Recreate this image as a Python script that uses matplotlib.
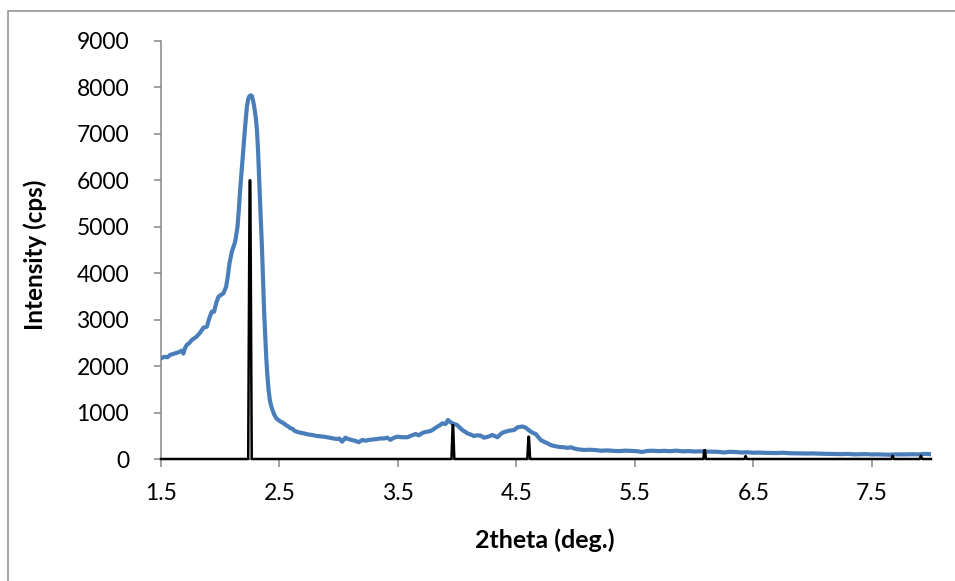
import matplotlib
matplotlib.use("Agg")
import matplotlib.pyplot as plt
from matplotlib.patches import Rectangle

# ---- data ----
blue_x = [1.50, 1.53, 1.555, 1.576, 1.618, 1.65, 1.675, 1.689, 1.703, 1.717, 1.74, 1.76, 1.80, 1.83,
          1.858, 1.887, 1.91, 1.929, 1.948, 1.965, 1.985, 2.01, 2.027, 2.05, 2.065, 2.078, 2.098,
          2.126, 2.146, 2.158, 2.168, 2.182, 2.196, 2.21, 2.225, 2.237, 2.247, 2.258, 2.267, 2.277,
          2.287, 2.30, 2.31, 2.32, 2.329, 2.34, 2.352, 2.362, 2.371, 2.38, 2.388, 2.398, 2.408,
          2.42, 2.436, 2.455, 2.473, 2.50, 2.535, 2.56, 2.575, 2.591, 2.61, 2.625, 2.648, 2.67,
          2.704, 2.74, 2.78, 2.817, 2.86, 2.90, 2.93, 2.96, 2.986, 3.005, 3.029, 3.045, 3.057,
          3.08, 3.113, 3.14, 3.17, 3.198, 3.23, 3.254, 3.29, 3.325, 3.36, 3.38, 3.409, 3.437,
          3.46, 3.494, 3.53, 3.579, 3.61, 3.649, 3.677, 3.70, 3.72, 3.776, 3.80, 3.832, 3.85,
          3.875, 3.903, 3.922, 3.94, 3.959, 4.0, 4.02, 4.044, 4.065, 4.086, 4.11, 4.142, 4.17,
          4.199, 4.227, 4.26, 4.298, 4.32, 4.34, 4.36, 4.382, 4.41, 4.438, 4.481, 4.509, 4.53,
          4.551, 4.579, 4.60, 4.622, 4.64, 4.664, 4.685, 4.706, 4.735, 4.763, 4.79, 4.819, 4.86,
          4.904, 4.93, 4.96, 4.99, 5.017, 5.073, 5.12, 5.157, 5.214, 5.27, 5.32, 5.37, 5.42,
          5.47, 5.52, 5.56, 5.60, 5.65, 5.70, 5.75, 5.80, 5.85, 5.90, 5.95, 6.00, 6.05, 6.10,
          6.15, 6.20, 6.25, 6.30, 6.35, 6.40, 6.45, 6.50, 6.55, 6.60, 6.65, 6.70, 6.75, 6.80,
          6.85, 6.90, 6.95, 7.00, 7.05, 7.10, 7.15, 7.20, 7.25, 7.30, 7.35, 7.40, 7.45, 7.50,
          7.55, 7.60, 7.65, 7.70, 7.75, 7.80, 7.85, 7.90, 7.95, 7.99]
blue_y = [2170, 2200, 2190, 2240, 2275, 2300, 2332, 2270, 2390, 2454, 2500, 2562, 2633, 2720,
          2827, 2848, 3050, 3171, 3171, 3350, 3494, 3540, 3567, 3710, 3950, 4213, 4463,
          4678, 5001, 5400, 5792, 6250, 6724, 7150, 7585, 7760, 7815, 7830, 7815, 7720,
          7585, 7350, 7083, 6600, 6007, 5300, 4571, 3850, 3137, 2650, 2203, 1800, 1486,
          1250, 1091, 960, 876, 820, 769, 720, 700, 664, 650, 610, 585, 570,
          553, 530, 515, 495, 485, 470, 455, 440, 430, 440, 373, 420, 459,
          430, 409, 390, 362, 409, 395, 410, 420, 431, 445, 440, 459, 412,
          450, 481, 470, 467, 500, 538, 510, 550, 574, 603, 640, 696, 720,
          768, 754, 840, 800, 768, 732, 680, 624, 590, 553, 530, 495, 510,
          502, 459, 480, 517, 490, 467, 520, 566, 590, 609, 624, 682, 690,
          700, 674, 630, 588, 560, 538, 470, 409, 370, 338, 300, 280, 260,
          252, 240, 252, 225, 209, 194, 200, 194, 179, 185, 175, 170, 180,
          175, 168, 150, 172, 178, 170, 175, 168, 180, 165, 170, 162, 165, 160,
          158, 155, 140, 155, 150, 140, 145, 135, 138, 132, 130, 128, 135, 125,
          122, 120, 118, 120, 115, 112, 110, 108, 105, 110, 100, 102, 105, 98,
          100, 95, 92, 100, 98, 100, 102, 100, 110, 105]

ref_x = [1.50, 2.236, 2.248, 2.254, 2.266, 3.952, 3.962, 3.966, 3.976, 4.592, 4.602, 4.606, 4.616,
         6.078, 6.086, 6.092, 6.100, 6.425, 6.435, 6.445, 7.665, 7.676, 7.687, 7.904, 7.915, 7.926, 8.00]
ref_y = [0, 0, 6000, 6000, 0, 0, 730, 730, 0, 0, 480, 480, 0,
         0, 190, 190, 0, 0, 65, 0, 0, 70, 0, 0, 70, 0, 0]

x_ticks = [1.5, 2.5, 3.5, 4.5, 5.5, 6.5, 7.5]
y_ticks = [0, 1000, 2000, 3000, 4000, 5000, 6000, 7000, 8000, 9000]
x_label = "2theta (deg.)"
y_label = "Intensity (cps)"

# ---- figure ----
W, H, DPI = 955, 581, 100
fig = plt.figure(figsize=(W / DPI, H / DPI), dpi=DPI)
plt.rcParams['font.family'] = ['Lato', 'DejaVu Sans']

L, R, T, B = 161, 931, 41, 459
ax = fig.add_axes([L / W, 1 - B / H, (R - L) / W, (B - T) / H])

gray = "#868686"
ax.plot(blue_x, blue_y, color="#4A7EBB", lw=3.0, solid_joinstyle="round", zorder=3)
ax.plot(ref_x, ref_y, color="black", lw=1.8, zorder=4, clip_on=False)

ax.set_xlim(1.5, 8.0)
ax.set_ylim(0, 9000)
ax.set_xticks(x_ticks)
ax.set_xticklabels([f"{v:g}" for v in x_ticks])
ax.set_yticks(y_ticks)
ax.set_yticklabels([str(v) for v in y_ticks])

for s in ("top", "right"):
    ax.spines[s].set_visible(False)
for s in ("left", "bottom"):
    ax.spines[s].set_color(gray)
    ax.spines[s].set_linewidth(1.1)

ax.tick_params(axis="x", direction="out", length=6, width=1.1, color=gray,
               labelsize=16.5, pad=11, labelcolor="black")
ax.tick_params(axis="y", direction="out", length=5, width=1.1, color=gray,
               labelsize=16.5, pad=18, labelcolor="black")

ax.set_xlabel(x_label, fontsize=18, fontweight="bold", va="center")
ax.set_ylabel(y_label, fontsize=17.5, fontweight="bold", va="center")
ax.xaxis.set_label_coords((545 - L) / (R - L), (B - 540) / (B - T))
ax.yaxis.set_label_coords((35 - L) / (R - L), (B - 255) / (B - T))

# outer chart border (clipped at right and bottom, as in reference)
fig.patches.append(Rectangle((7.5 / W, -0.05), 1.1, 1 - 11 / H + 0.05, transform=fig.transFigure,
                             fill=False, edgecolor="#8c8c8c", lw=1.1))

fig.savefig("out.png", dpi=DPI)
